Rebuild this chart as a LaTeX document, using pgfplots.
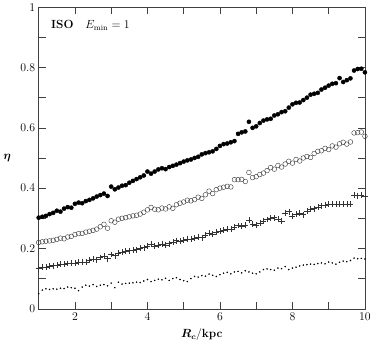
\documentclass[border=0pt]{standalone}
\usepackage{pgfplots}
\usepackage{pgfplotstable}
\usepackage{bm}
\pgfplotsset{compat=1.18}

% columns: R_c, filled circles, open circles, plus, dots
\pgfplotstableread{
x    f      o      p      d
1.0  0.302  0.220  0.133  0.050
1.1  0.305  0.222  0.138  0.062
1.2  0.308  0.224  0.139  0.066
1.3  0.314  0.225  0.141  0.064
1.4  0.318  0.227  0.143  0.066
1.5  0.325  0.230  0.144  0.065
1.6  0.322  0.234  0.147  0.068
1.7  0.332  0.232  0.149  0.067
1.8  0.337  0.238  0.150  0.072
1.9  0.335  0.240  0.151  0.070
2.0  0.348  0.246  0.152  0.068
2.1  0.352  0.249  0.154  0.060
2.2  0.350  0.250  0.155  0.072
2.3  0.357  0.254  0.156  0.078
2.4  0.361  0.257  0.162  0.075
2.5  0.366  0.260  0.165  0.080
2.6  0.372  0.264  0.163  0.074
2.7  0.377  0.272  0.170  0.078
2.8  0.382  0.280  0.175  0.080
2.9  0.374  0.267  0.166  0.076
3.0  0.405  0.292  0.180  0.085
3.1  0.396  0.287  0.176  0.070
3.2  0.402  0.297  0.184  0.088
3.3  0.408  0.300  0.187  0.082
3.4  0.410  0.302  0.190  0.084
3.5  0.418  0.305  0.193  0.085
3.6  0.424  0.308  0.194  0.086
3.7  0.430  0.310  0.196  0.088
3.8  0.436  0.314  0.200  0.087
3.9  0.442  0.320  0.203  0.092
4.0  0.455  0.328  0.208  0.097
4.1  0.448  0.336  0.215  0.090
4.2  0.455  0.330  0.207  0.094
4.3  0.462  0.328  0.212  0.098
4.4  0.466  0.334  0.214  0.096
4.5  0.463  0.331  0.211  0.101
4.6  0.470  0.338  0.216  0.094
4.7  0.474  0.333  0.220  0.100
4.8  0.478  0.345  0.226  0.103
4.9  0.483  0.350  0.224  0.097
5.0  0.488  0.354  0.228  0.093
5.1  0.492  0.360  0.232  0.090
5.2  0.495  0.358  0.231  0.100
5.3  0.500  0.362  0.235  0.107
5.4  0.504  0.370  0.238  0.105
5.5  0.512  0.366  0.236  0.110
5.6  0.516  0.378  0.244  0.108
5.7  0.519  0.390  0.250  0.115
5.8  0.522  0.382  0.248  0.111
5.9  0.530  0.395  0.255  0.107
6.0  0.540  0.400  0.258  0.113
6.1  0.546  0.403  0.262  0.118
6.2  0.548  0.406  0.265  0.121
6.3  0.552  0.404  0.263  0.116
6.4  0.556  0.428  0.270  0.122
6.5  0.580  0.428  0.276  0.124
6.6  0.585  0.429  0.274  0.119
6.7  0.588  0.422  0.277  0.126
6.8  0.620  0.452  0.293  0.122
6.9  0.600  0.435  0.280  0.118
7.0  0.605  0.438  0.277  0.116
7.1  0.616  0.445  0.285  0.122
7.2  0.624  0.450  0.292  0.130
7.3  0.628  0.458  0.296  0.132
7.4  0.630  0.468  0.300  0.130
7.5  0.641  0.463  0.302  0.128
7.6  0.645  0.475  0.297  0.135
7.7  0.652  0.470  0.290  0.133
7.8  0.655  0.480  0.316  0.140
7.9  0.667  0.489  0.322  0.130
8.0  0.678  0.483  0.308  0.135
8.1  0.683  0.495  0.315  0.138
8.2  0.684  0.490  0.318  0.142
8.3  0.692  0.500  0.312  0.145
8.4  0.700  0.505  0.325  0.146
8.5  0.710  0.502  0.330  0.148
8.6  0.713  0.515  0.332  0.147
8.7  0.716  0.522  0.337  0.150
8.8  0.727  0.524  0.342  0.152
8.9  0.733  0.532  0.345  0.149
9.0  0.740  0.528  0.346  0.155
9.1  0.746  0.540  0.347  0.152
9.2  0.748  0.536  0.347  0.148
9.3  0.765  0.547  0.348  0.154
9.4  0.752  0.552  0.347  0.158
9.5  0.758  0.546  0.348  0.156
9.6  0.764  0.553  0.346  0.160
9.7  0.790  0.583  0.378  0.168
9.8  0.795  0.584  0.375  0.166
9.9  0.796  0.586  0.376  0.167
10.0 0.784  0.572  0.372  0.165
}\datatable

\begin{document}
\begin{tikzpicture}
  \begin{axis}[
      width=330bp, height=305bp,
      scale only axis,
      xmin=1, xmax=10,
      ymin=0, ymax=1,
      xtick={1,2,...,10},
      xticklabels={,2,,4,,6,,8,,10},
      ytick={0,0.1,...,1.01},
      yticklabels={0,,0.2,,0.4,,0.6,,0.8,,1},
      major tick length=7bp,
      tick label style={font=\large},
      label style={font=\large},
      axis line style={black!75},
      every tick/.style={black!75},
      xlabel={$\bm{R_c}/\mathbf{kpc}$},
      ylabel={$\bm{\eta}$},
      xlabel style={at={(axis description cs:0.5,-0.085)}, anchor=center},
      ylabel style={rotate=-90, at={(axis description cs:-0.097,0.5)}, anchor=center},
    ]
    \addplot[only marks, mark=*, mark size=2.1bp, black] table[x=x, y=f] {\datatable};
    \addplot[only marks, mark=o, mark size=2.4bp, black!80] table[x=x, y=o] {\datatable};
    \addplot[only marks, mark=+, mark size=3bp, black!80] table[x=x, y=p] {\datatable};
    \addplot[only marks, mark=*, mark size=0.55bp, black] table[x=x, y=d] {\datatable};
    \node[anchor=west, font=\large] at (axis cs:1.25,0.94) {\textbf{ISO}\quad$E_{\min}=1$};
  \end{axis}
\end{tikzpicture}
\end{document}
